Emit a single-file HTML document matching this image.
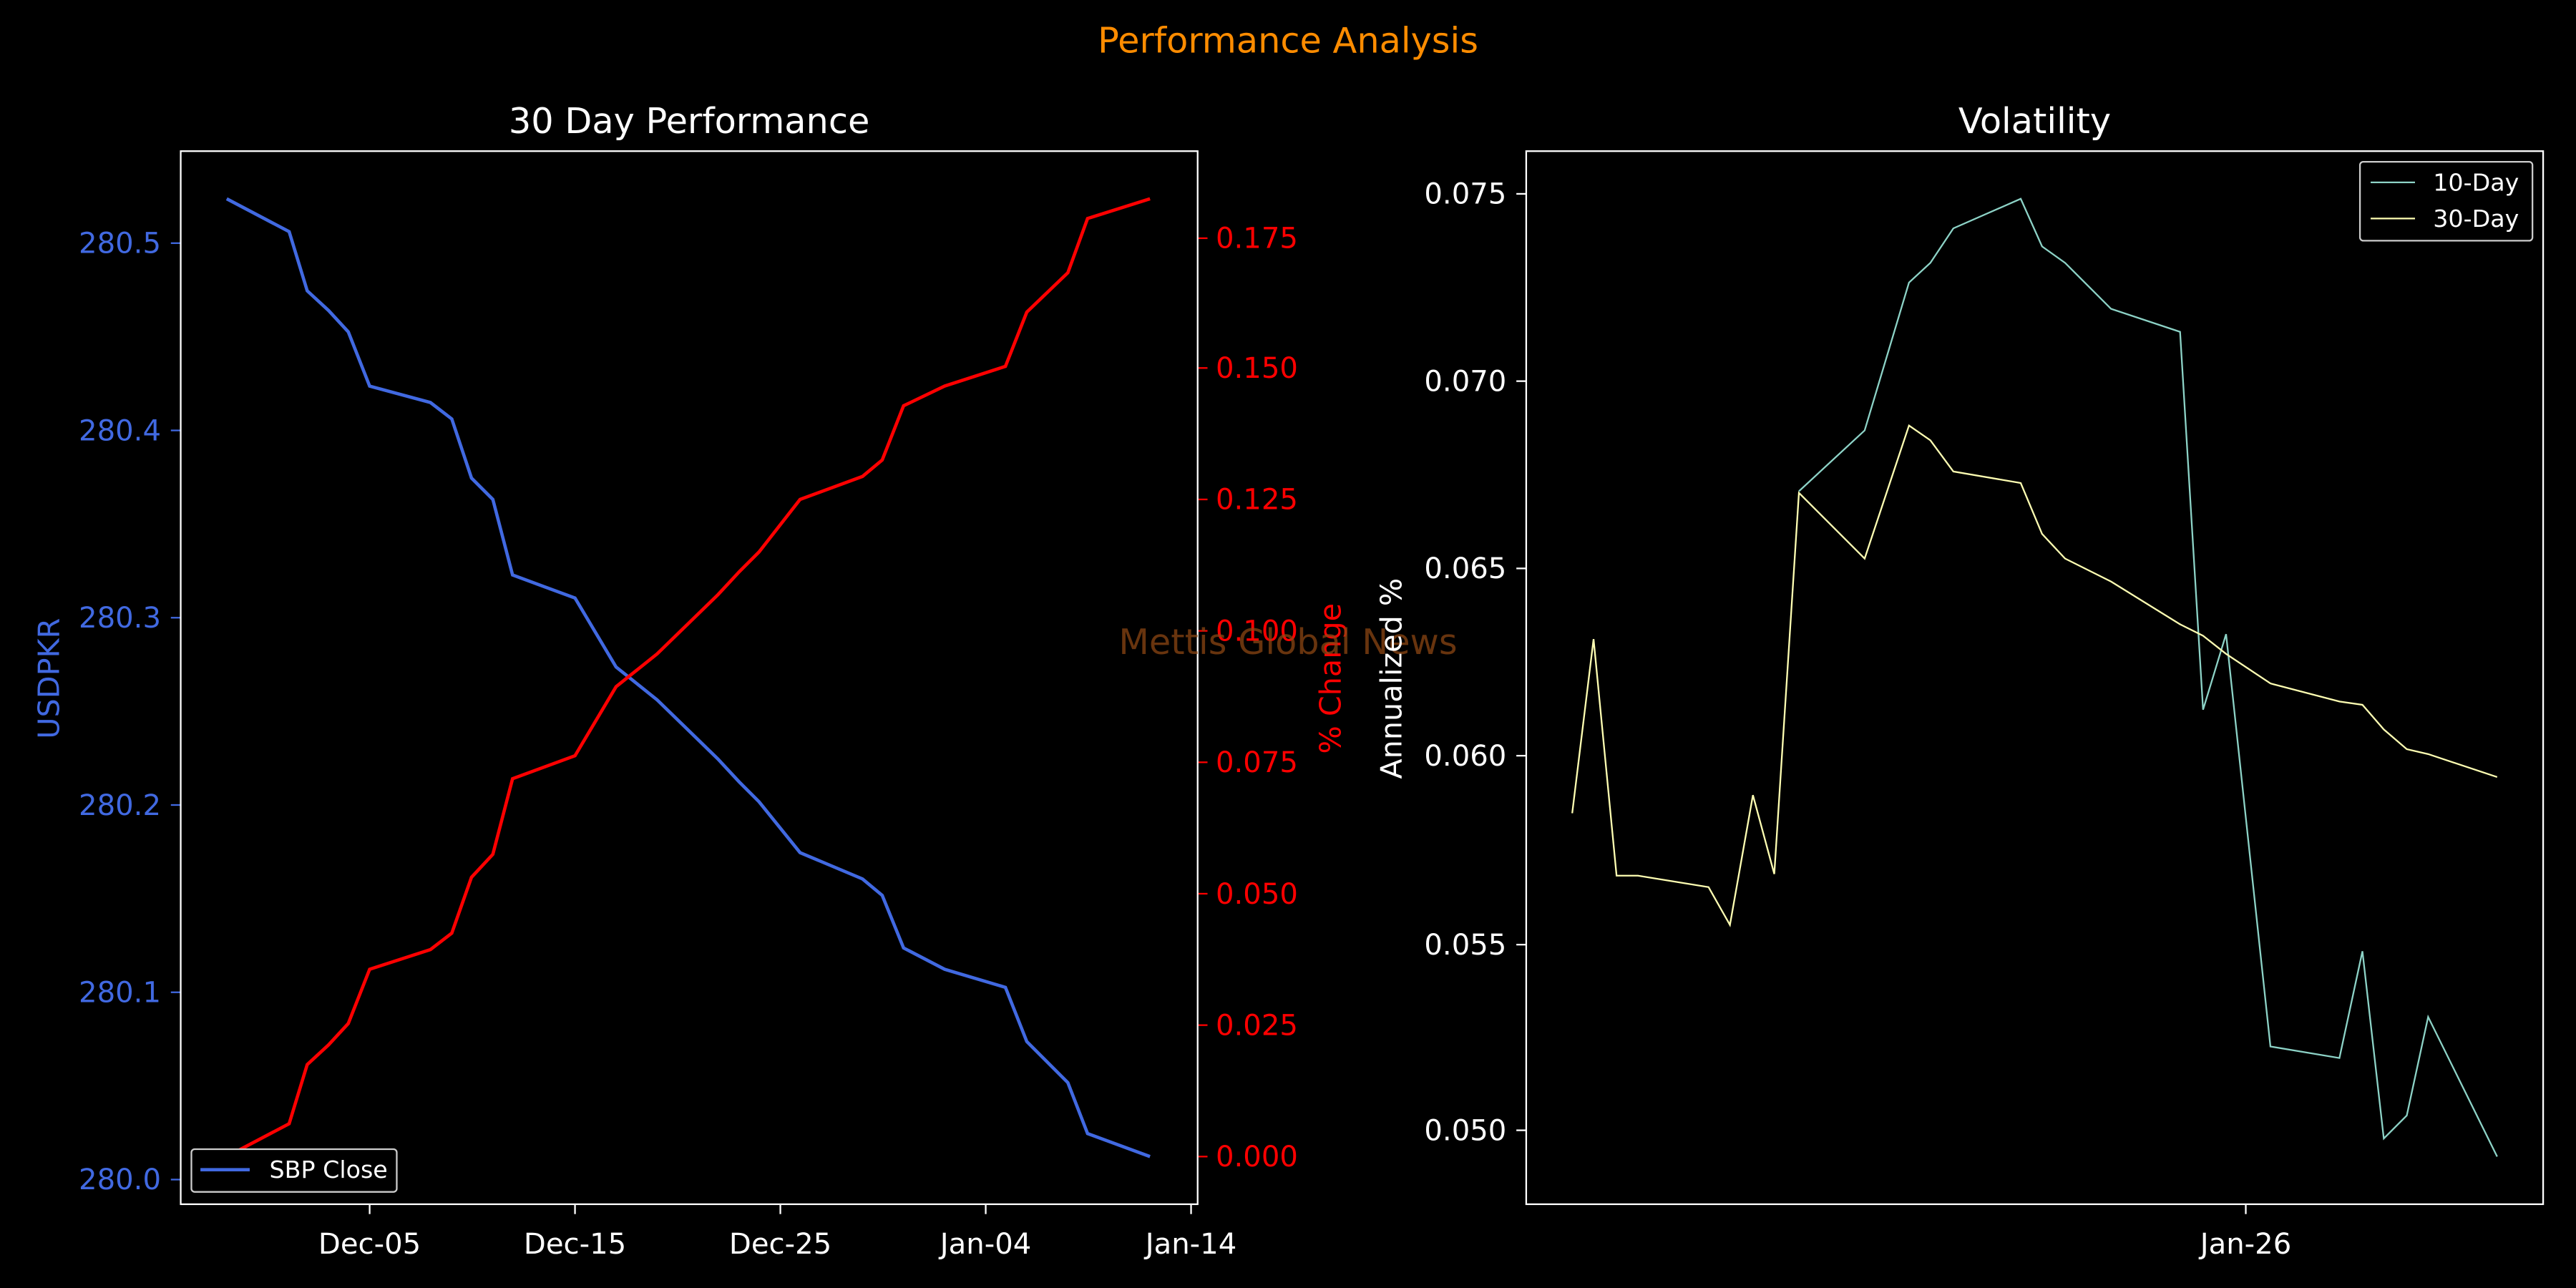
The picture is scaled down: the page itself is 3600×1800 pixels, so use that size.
<!DOCTYPE html>
<html><head><meta charset="utf-8"><style>html,body{margin:0;padding:0;background:#000}svg{display:block}</style></head>
<body>
<svg width="3600" height="1800" viewBox="0 0 1568 784" xmlns="http://www.w3.org/2000/svg" font-family="'DejaVu Sans','Liberation Sans',sans-serif">
<rect width="1568" height="784" fill="#000"/>
<text x="784" y="32" text-anchor="middle" font-size="21.5" fill="#ff8c00">Performance Analysis</text>

<!-- Left panel -->
<text x="419.5" y="81" text-anchor="middle" font-size="21.5" fill="#fff">30 Day Performance</text>
<g font-size="17.5">
<g fill="#4169e1" text-anchor="end">
<text x="98" y="724">280.0</text><text x="98" y="610">280.1</text><text x="98" y="496">280.2</text><text x="98" y="382">280.3</text><text x="98" y="268">280.4</text><text x="98" y="154">280.5</text>
</g>
<g stroke="#4169e1" stroke-width="1"><line x1="104" x2="110" y1="718" y2="718"/><line x1="104" x2="110" y1="604" y2="604"/><line x1="104" x2="110" y1="490" y2="490"/><line x1="104" x2="110" y1="376" y2="376"/><line x1="104" x2="110" y1="262" y2="262"/><line x1="104" x2="110" y1="148" y2="148"/></g>
<text transform="translate(36,413) rotate(-90)" text-anchor="middle" font-size="18" fill="#4169e1">USDPKR</text>
<g fill="#ff0000"><text x="740" y="710">0.000</text><text x="740" y="630">0.025</text><text x="740" y="550">0.050</text><text x="740" y="470">0.075</text><text x="740" y="390">0.100</text><text x="740" y="310">0.125</text><text x="740" y="230">0.150</text><text x="740" y="151">0.175</text></g>
<g stroke="#ff0000"><line x1="729" x2="735" y1="704" y2="704"/><line x1="729" x2="735" y1="624" y2="624"/><line x1="729" x2="735" y1="544" y2="544"/><line x1="729" x2="735" y1="464" y2="464"/><line x1="729" x2="735" y1="384" y2="384"/><line x1="729" x2="735" y1="304" y2="304"/><line x1="729" x2="735" y1="224" y2="224"/><line x1="729" x2="735" y1="145" y2="145"/></g>
<text transform="translate(816,413) rotate(-90)" text-anchor="middle" font-size="18" fill="#ff0000">% Change</text>
<g fill="#fff" text-anchor="middle"><text x="225" y="763">Dec-05</text><text x="350" y="763">Dec-15</text><text x="475" y="763">Dec-25</text><text x="600" y="763">Jan-04</text><text x="725" y="763">Jan-14</text></g>
<g stroke="#fff"><line x1="225" x2="225" y1="733" y2="739"/><line x1="350" x2="350" y1="733" y2="739"/><line x1="475" x2="475" y1="733" y2="739"/><line x1="600" x2="600" y1="733" y2="739"/><line x1="725" x2="725" y1="733" y2="739"/></g>
</g>
<polyline fill="none" stroke="#4169e1" stroke-width="2" points="138,121 176,141 187,177 200,189 212,202 225,235 262,245 275,255 287,291 300,304 312,350 350,364 375,406 400,426 437,462 450,476 462,488 487,519 525,535 537,545 550,577 575,590 612,601 625,634 650,659 662,690 700,704"/>
<polyline fill="none" stroke="#ff0000" stroke-width="2" points="138,704 176,684 187,648 200,636 212,623 225,590 262,578 275,568 287,534 300,520 312,474 350,460 375,418 400,398 437,362 450,348 462,336 487,304 525,290 537,280 550,247 575,235 612,223 625,190 650,166 662,133 700,121"/>
<rect x="110" y="92" width="619" height="641" fill="none" stroke="#fff" stroke-width="1"/>
<rect x="116.5" y="699.5" width="125" height="26" rx="2" fill="#000" stroke="#ccc" stroke-width="1"/>
<line x1="122" x2="152" y1="712" y2="712" stroke="#4169e1" stroke-width="2"/>
<text x="164" y="717" font-size="14.5" fill="#fff">SBP Close</text>

<text x="784" y="398" text-anchor="middle" font-size="21.5" fill="#8b4513" fill-opacity="0.75">Mettis Global News</text>

<!-- Right panel -->
<text x="1238.5" y="81" text-anchor="middle" font-size="21.5" fill="#fff">Volatility</text>
<g font-size="17.5" fill="#fff">
<g text-anchor="end"><text x="917" y="124">0.075</text><text x="917" y="238">0.070</text><text x="917" y="352">0.065</text><text x="917" y="466">0.060</text><text x="917" y="581">0.055</text><text x="917" y="694">0.050</text></g>
<g stroke="#fff"><line x1="923" x2="929" y1="118" y2="118"/><line x1="923" x2="929" y1="232" y2="232"/><line x1="923" x2="929" y1="346" y2="346"/><line x1="923" x2="929" y1="460" y2="460"/><line x1="923" x2="929" y1="575" y2="575"/><line x1="923" x2="929" y1="688" y2="688"/><line x1="1367" x2="1367" y1="733" y2="739"/></g>
<text x="1367" y="763" text-anchor="middle">Jan-26</text>
<text transform="translate(853,413) rotate(-90)" text-anchor="middle" font-size="18">Annualized %</text>
</g>
<polyline fill="none" stroke="#8dd3c7" stroke-width="1" points="1095,299 1135,262 1162,172 1175,160 1189,139 1230,121 1243,150 1257,160 1285,188 1327,202 1341,432 1355,386 1382,637 1424,644 1438,579 1451,693 1465,679 1478,619 1520,704"/>
<polyline fill="none" stroke="#ffffb3" stroke-width="1" points="957,495 970,389 984,533 997,533 1040,540 1053,563 1067,484 1080,532 1095,300 1135,340 1162,259 1175,268 1189,287 1230,294 1243,325 1257,340 1285,354 1327,380 1341,387 1355,398 1382,416 1424,427 1438,429 1451,444 1465,456 1478,459 1520,473"/>
<rect x="929" y="92" width="619" height="641" fill="none" stroke="#fff" stroke-width="1"/>
<rect x="1436.5" y="98.5" width="105" height="48" rx="2" fill="#000" stroke="#ccc" stroke-width="1"/>
<line x1="1443" x2="1470" y1="111" y2="111" stroke="#8dd3c7"/>
<line x1="1443" x2="1470" y1="133" y2="133" stroke="#ffffb3"/>
<text x="1481" y="116" font-size="14.5" fill="#fff">10-Day</text>
<text x="1481" y="138" font-size="14.5" fill="#fff">30-Day</text>
</svg>
</body></html>
